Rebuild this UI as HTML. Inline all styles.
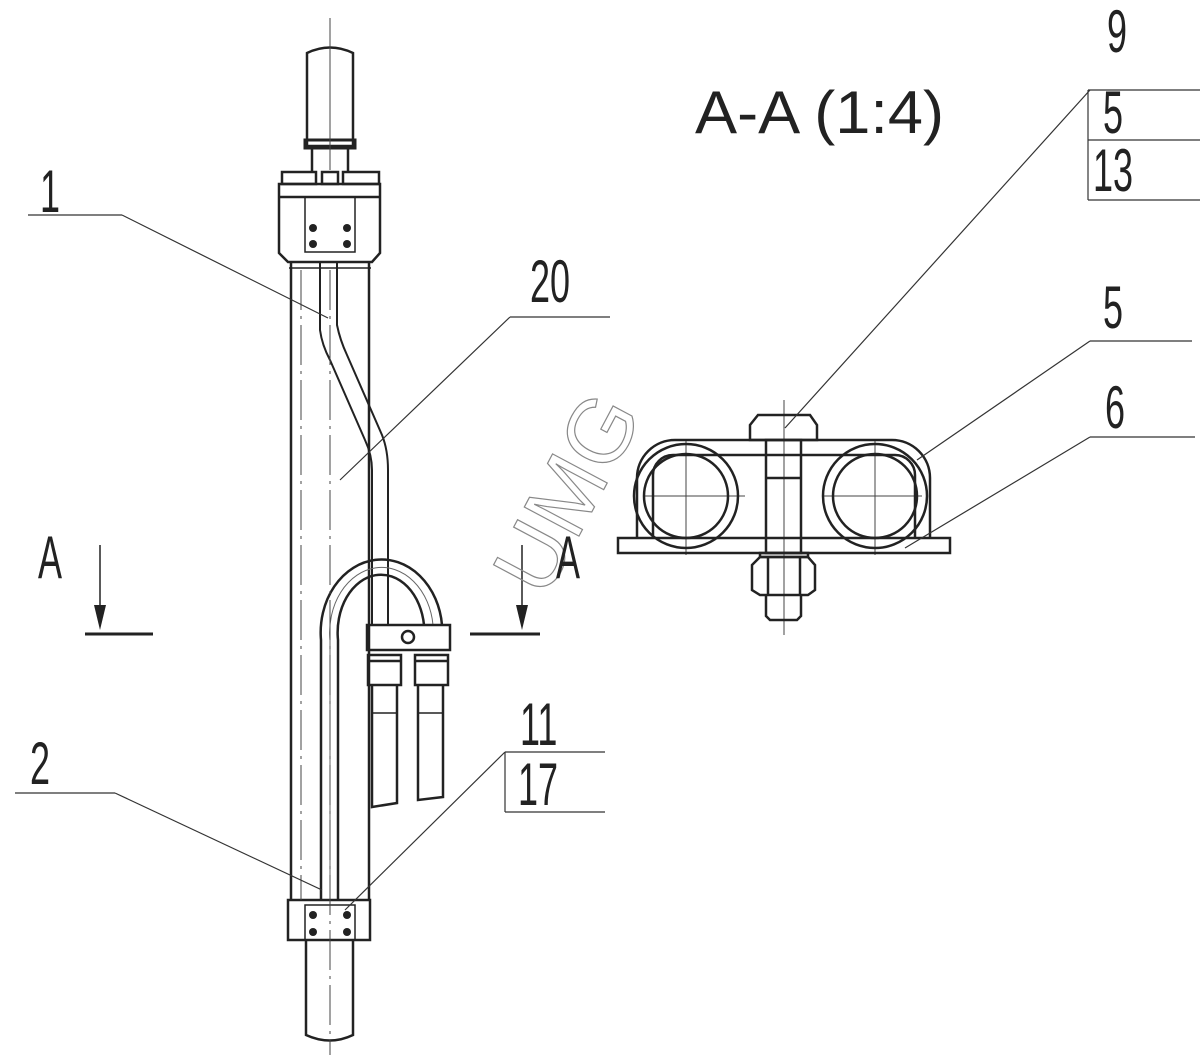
<!DOCTYPE html>
<html><head><meta charset="utf-8"><style>
html,body{margin:0;padding:0;background:#fff}
svg{display:block}
text{font-family:"Liberation Sans",sans-serif;fill:#222}
</style></head><body>
<svg width="1200" height="1059" viewBox="0 0 1200 1059" xmlns="http://www.w3.org/2000/svg">
<g fill="none" stroke="#222" stroke-width="2.5">
<path d="M307,146 L307,53 Q330,42 353,53 L353,146 Z"/>
<rect x="305" y="140" width="50" height="8" stroke-width="3"/>
<line x1="312" y1="148" x2="312" y2="172"/><line x1="348" y1="148" x2="348" y2="172"/>
<rect x="282" y="172" width="34" height="12"/><rect x="322" y="172" width="16" height="12"/><rect x="343" y="172" width="36" height="12"/>
<path d="M279,184 L380,184 L380,253 L372,262 L288,262 L279,253 Z"/>
<line x1="279" y1="197" x2="380" y2="197"/>
<rect x="305" y="197" width="50" height="55" stroke-width="1.5"/>
<line x1="291" y1="262" x2="291" y2="900"/><line x1="369" y1="262" x2="369" y2="900"/>
<line x1="289" y1="268" x2="371" y2="268" stroke-width="1.5"/>
<path d="M320,262 L320,330 Q322,345 330,360 L365,440 Q372,455 372,470 L372,625" stroke-width="2"/>
<path d="M337,262 L337,325 Q340,340 347,355 L382,435 Q388,450 388,470 L388,625" stroke-width="2"/>
<path d="M321,900 L321,640 A60,72 0 0 1 442,625" stroke-width="2.5"/>
<path d="M338,900 L338,640 A42,56 0 0 1 424,625" stroke-width="2.5"/>
<path d="M330,900 L330,640 A51,64 0 0 1 433,625" stroke-width="1" stroke="#666"/>
<rect x="367" y="625" width="83" height="25"/>
<circle cx="408" cy="637" r="6"/>
<rect x="368" y="655" width="33" height="30"/><rect x="415" y="655" width="33" height="30"/>
<line x1="368" y1="661" x2="401" y2="661"/><line x1="415" y1="661" x2="448" y2="661"/>
<path d="M372,685 L372,807 L397,803 L397,685"/>
<path d="M418,685 L418,800 L443,797 L443,685"/>
<line x1="372" y1="713" x2="397" y2="713" stroke-width="1.5"/><line x1="418" y1="713" x2="443" y2="713" stroke-width="1.5"/>
<rect x="288" y="900" width="82" height="40"/>
<rect x="305" y="905" width="50" height="35" stroke-width="1.5"/>
<path d="M306,940 L306,1035 Q330,1046 353,1035 L353,940"/>
</g>
<g fill="#222"><circle cx="313" cy="228" r="4"/><circle cx="347" cy="228" r="4"/><circle cx="313" cy="244" r="4"/><circle cx="347" cy="244" r="4"/>
<circle cx="313" cy="915" r="4"/><circle cx="347" cy="915" r="4"/><circle cx="313" cy="932" r="4"/><circle cx="347" cy="932" r="4"/></g>
<g stroke="#444" stroke-width="1" fill="none">
<line x1="330" y1="18" x2="330" y2="170"/>
<line x1="330" y1="270" x2="330" y2="1055" stroke-dasharray="40,6,3,6"/>
<line x1="301" y1="270" x2="301" y2="900" stroke-dasharray="40,6,3,6"/>
<line x1="784" y1="400" x2="784" y2="635"/>
<line x1="645" y1="496" x2="745" y2="496"/><line x1="822" y1="496" x2="922" y2="496"/>
<line x1="686" y1="440" x2="686" y2="555"/><line x1="875" y1="440" x2="875" y2="555"/>
</g>
<g fill="none" stroke="#222" stroke-width="2.5">
<rect x="618" y="538" width="332" height="15"/>
<path d="M637,538 L637,478 A38,38 0 0 1 675,440 L892,440 A38,38 0 0 1 930,478 L930,538"/>
<path d="M653,538 L653,475 A20,20 0 0 1 673,455 L895,455 A20,20 0 0 1 915,475 L915,538"/>
<circle cx="686" cy="496" r="52"/><circle cx="686" cy="496" r="42"/>
<circle cx="875" cy="496" r="52"/><circle cx="875" cy="496" r="42"/>
<path d="M750,425 L758,415 L810,415 L817,425 L817,440 L750,440 Z"/>
<rect x="766" y="440" width="35" height="113"/>
<line x1="766" y1="478" x2="801" y2="478"/>
<rect x="760" y="553" width="48" height="4"/>
<path d="M752,565 L760,557 L808,557 L815,565 L815,590 L808,595 L760,595 L752,590 Z"/>
<line x1="768" y1="557" x2="768" y2="595"/><line x1="800" y1="557" x2="800" y2="595"/>
<path d="M766,595 L766,616 L770,620 L797,620 L801,616 L801,595"/>
</g>
<g stroke="#333" stroke-width="1.2" fill="none">
<line x1="28" y1="215" x2="122" y2="215"/><line x1="122" y1="215" x2="328" y2="318"/>
<line x1="510" y1="317" x2="610" y2="317"/><line x1="510" y1="317" x2="340" y2="480"/>
<line x1="1090" y1="90" x2="785" y2="428"/>
<line x1="1088" y1="90" x2="1200" y2="90"/><line x1="1088" y1="90" x2="1088" y2="200"/>
<line x1="1088" y1="140" x2="1200" y2="140"/><line x1="1088" y1="200" x2="1200" y2="200"/>
<line x1="1090" y1="341" x2="1192" y2="341"/><line x1="1090" y1="341" x2="917" y2="460"/>
<line x1="1090" y1="437" x2="1195" y2="437"/><line x1="1090" y1="437" x2="905" y2="548"/>
<line x1="15" y1="793" x2="115" y2="793"/><line x1="115" y1="793" x2="322" y2="890"/>
<line x1="505" y1="752" x2="605" y2="752"/><line x1="505" y1="752" x2="505" y2="812"/><line x1="505" y1="812" x2="605" y2="812"/>
<line x1="505" y1="752" x2="345" y2="910"/>
</g>
<g stroke="#222" stroke-width="3">
<line x1="85" y1="634" x2="153" y2="634"/><line x1="470" y1="634" x2="540" y2="634"/>
<line x1="100" y1="545" x2="100" y2="612" stroke-width="1.5"/><line x1="522" y1="545" x2="522" y2="612" stroke-width="1.5"/>
</g>
<path d="M94,605 L106,605 L100,630 Z" fill="#222"/><path d="M516,605 L528,605 L522,630 Z" fill="#222"/>
<text x="0" y="0" transform="translate(545,600) rotate(-62)" font-size="90" style="fill:none;stroke:#888;stroke-width:1.2">UMG</text>
<g font-size="60">
<text transform="translate(40,212) scale(0.6,1)">1</text>
<text transform="translate(530,302) scale(0.6,1)">20</text>
<text transform="translate(1107,52) scale(0.6,1)">9</text>
<text transform="translate(1103,133) scale(0.6,1)">5</text>
<text transform="translate(1093,191) scale(0.6,1)">13</text>
<text transform="translate(1103,328) scale(0.6,1)">5</text>
<text transform="translate(1105,428) scale(0.6,1)">6</text>
<text transform="translate(30,784) scale(0.6,1)">2</text>
<text transform="translate(520,745) scale(0.6,1)">11</text>
<text transform="translate(518,805) scale(0.6,1)">17</text>
<text transform="translate(38,578) scale(0.6,1)">A</text>
<text transform="translate(556,578) scale(0.6,1)">A</text>
<text transform="translate(695,133) scale(0.6,1)" textLength="415" lengthAdjust="spacingAndGlyphs">A-A (1:4)</text>
</g>
</svg>
</body></html>
